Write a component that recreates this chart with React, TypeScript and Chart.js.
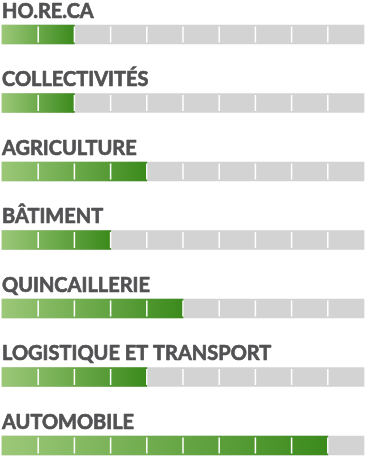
import React, { useEffect, useRef } from "react";
import { Chart, registerables } from "chart.js";

Chart.register(...registerables);

const categories = [
  "HO.RE.CA",
  "COLLECTIVITÉS",
  "AGRICULTURE",
  "BÂTIMENT",
  "QUINCAILLERIE",
  "LOGISTIQUE ET TRANSPORT",
  "AUTOMOBILE",
];
const scores = [2, 2, 4, 3, 5, 4, 9];
const maxScore = 10;
const fullScores = categories.map(() => maxScore);

const BAR_H = 19;

export default function App() {
  const ref = useRef<HTMLCanvasElement | null>(null);

  useEffect(() => {
    document.body.style.margin = "0";
    const canvas = ref.current;
    if (!canvas) return;

    const labelPlugin = {
      id: "labelsAndDividers",
      afterDatasetsDraw(chart: any) {
        const { ctx, scales } = chart;
        const xs = scales.x;
        const ys = scales.y;
        ctx.save();
        // dividers
        ctx.fillStyle = "#ffffff";
        categories.forEach((_, idx) => {
          const yc = ys.getPixelForValue(idx);
          const top = yc - BAR_H / 2 + 1.5;
          const h = BAR_H - 3;
          for (let i = 1; i < maxScore; i++) {
            const x = xs.getPixelForValue(i);
            ctx.fillRect(x - 0.75, top, 1.5, h);
          }
        });
        // labels
        ctx.fillStyle = "#525254";
        ctx.strokeStyle = "#525254";
        ctx.lineWidth = 0.7;
        ctx.lineJoin = "round";
        ctx.font = "bold 20px Lato";
        ctx.textBaseline = "alphabetic";
        ctx.textAlign = "left";
        categories.forEach((c, idx) => {
          const yc = ys.getPixelForValue(idx);
          const y = yc - BAR_H / 2 - 7.5;
          ctx.fillText(c, 2, y);
          ctx.strokeText(c, 2, y);
        });
        ctx.restore();
      },
    };

    const chart = new Chart(canvas, {
      type: "bar",
      data: {
        labels: categories,
        datasets: [
          {
            data: scores,
            order: 0,
            grouped: false,
            barThickness: BAR_H,
            borderWidth: 0,
            clip: false as any,
            backgroundColor: (c: any) => {
              const chart = c.chart;
              if (!chart.chartArea || c.dataIndex === undefined) return "#5a9a35";
              const xs = chart.scales.x;
              const x0 = xs.getPixelForValue(0);
              const x1 = xs.getPixelForValue(scores[c.dataIndex]);
              const g = chart.ctx.createLinearGradient(x0, 0, x1, 0);
              g.addColorStop(0, "#9cc878");
              g.addColorStop(1, "#3b8a1c");
              return g;
            },
          },
          {
            data: fullScores,
            order: 1,
            grouped: false,
            barThickness: BAR_H,
            borderWidth: 0,
            clip: false as any,
            backgroundColor: "#d3d3d3",
          },
        ],
      },
      options: {
        indexAxis: "y",
        animation: false,
        responsive: false,
        maintainAspectRatio: false,
        layout: { padding: { left: 2, right: 2, top: 34.5, bottom: 11.5 } },
        plugins: {
          legend: { display: false },
          tooltip: { enabled: false },
          title: { display: false },
        },
        scales: {
          x: { display: false, min: 0, max: maxScore },
          y: { display: false, type: "category", offset: false },
        },
      },
      plugins: [labelPlugin],
    });

    return () => chart.destroy();
  }, []);

  return (
    <div style={{ width: 366, height: 457 }}>
      <canvas ref={ref} width={366} height={457} style={{ display: "block" }} />
    </div>
  );
}
